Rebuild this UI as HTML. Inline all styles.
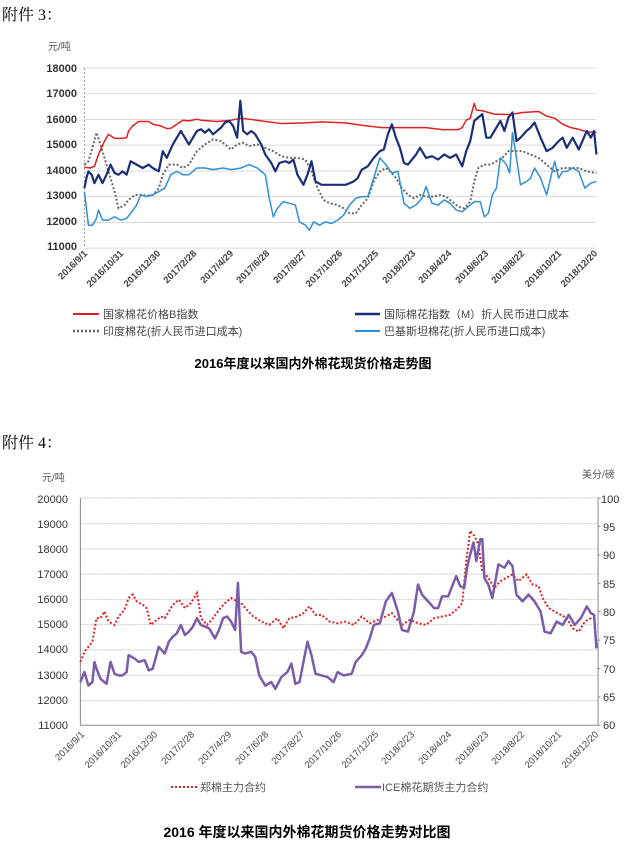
<!DOCTYPE html>
<html><head><meta charset="utf-8"><style>
body{margin:0;background:#fff;width:627px;height:844px;position:relative;overflow:hidden;font-family:"Liberation Sans","Noto Sans CJK SC",sans-serif}
svg{position:absolute;left:0}
.hd{position:absolute;left:2px;font-family:"Liberation Serif","Noto Serif CJK SC",serif;font-size:16px;color:#000}
</style></head><body>
<div class="hd" style="top:2px">附件 3：</div>
<div class="hd" style="top:430px">附件 4：</div>

<!-- chart 1 lines -->
<svg style="top:30px" width="627" height="350" viewBox="0 0 1560 1040" preserveAspectRatio="none">
<g stroke="#d9d9d9" stroke-width="1" vector-effect="non-scaling-stroke" fill="none">
<path vector-effect="non-scaling-stroke" d="M210 113H1484M210 189H1484M210 266H1484M210 342H1484M210 419H1484M210 495H1484M210 572H1484M210 648H1484"/>
</g>
<path d="M210 113V648" stroke="#999" stroke-dasharray="2,2" vector-effect="non-scaling-stroke" fill="none"/>
<g fill="none" stroke-linejoin="round" vector-effect="non-scaling-stroke">
<polyline vector-effect="non-scaling-stroke" stroke="#e02020" stroke-width="1.5" points="210,408 225,410 235,405 245,370 260,330 270,310 285,322 300,322 315,320 320,300 330,285 345,272 370,272 380,280 400,285 415,293 425,292 440,280 455,268 470,270 490,265 500,268 540,272 575,268 600,262 620,265 650,270 700,278 760,276 800,273 860,276 900,283 950,290 1000,290 1060,290 1100,296 1140,296 1150,290 1160,268 1170,262 1180,218 1185,238 1200,240 1230,250 1270,251 1300,245 1340,242 1360,256 1380,262 1400,280 1420,290 1440,295 1460,303 1484,304"/>
<polyline vector-effect="non-scaling-stroke" stroke="#666" stroke-width="2" stroke-dasharray="2,2" points="210,400 220,390 230,350 240,305 250,340 260,380 275,440 285,480 295,530 310,520 320,505 335,490 350,490 365,492 380,490 395,470 405,430 420,400 440,400 455,410 470,400 490,360 510,340 530,325 550,330 565,345 575,355 590,340 605,335 620,345 640,340 660,350 680,360 700,375 720,380 740,380 760,385 775,420 790,470 805,505 820,515 840,520 855,530 870,545 885,545 900,520 915,500 930,450 945,420 960,410 975,425 985,440 1000,470 1015,490 1030,500 1045,490 1060,495 1080,495 1095,490 1110,495 1125,510 1140,525 1155,530 1170,510 1180,450 1190,410 1205,400 1220,400 1235,390 1250,380 1265,360 1280,360 1300,360 1320,370 1340,380 1360,400 1380,420 1400,410 1420,410 1440,410 1460,420 1484,425"/>
<polyline vector-effect="non-scaling-stroke" stroke="#2f8fd8" stroke-width="1.5" points="210,480 215,530 220,580 230,580 240,560 245,535 255,565 270,565 285,555 300,565 315,560 325,545 340,520 350,490 365,495 380,490 395,480 410,470 425,430 440,420 455,430 470,430 490,410 510,410 530,415 555,410 575,415 600,410 620,400 640,410 660,430 670,500 680,555 690,530 705,510 720,515 735,520 745,570 760,580 770,595 780,570 795,580 810,570 825,575 840,565 855,550 870,520 885,500 900,495 915,495 930,440 945,380 960,400 975,425 990,420 1005,515 1020,530 1035,520 1050,500 1060,465 1075,515 1090,520 1105,505 1120,515 1135,535 1150,540 1165,525 1180,510 1195,510 1205,555 1215,545 1225,490 1235,470 1245,380 1260,400 1268,425 1275,305 1285,380 1295,460 1310,450 1320,440 1330,410 1345,440 1360,490 1370,440 1380,390 1390,440 1400,420 1410,420 1425,410 1440,420 1455,470 1470,455 1484,450"/>
<polyline vector-effect="non-scaling-stroke" stroke="#1a2f78" stroke-width="2.2" points="210,470 215,440 220,420 228,430 235,455 245,430 255,455 265,430 275,400 285,425 295,430 305,420 315,430 325,390 340,400 355,410 370,400 380,410 395,420 405,360 415,380 430,340 440,320 450,300 460,320 470,340 480,320 490,300 500,295 510,305 520,295 530,310 540,300 550,290 560,275 570,270 580,285 590,320 598,210 605,300 615,310 625,300 635,310 650,340 660,370 675,395 685,420 695,395 710,390 720,395 730,385 740,430 755,460 765,430 775,390 785,450 800,460 820,460 840,460 860,460 880,450 890,440 900,415 915,405 930,380 945,360 955,355 965,310 975,280 985,320 995,350 1005,395 1015,400 1025,385 1035,370 1045,350 1060,380 1075,375 1090,385 1105,370 1120,380 1135,370 1150,405 1160,360 1170,330 1180,270 1190,260 1200,250 1210,320 1220,320 1235,290 1245,270 1255,300 1265,260 1275,245 1285,330 1295,320 1310,300 1320,290 1330,275 1345,320 1360,360 1375,350 1390,330 1400,320 1410,350 1425,320 1440,355 1460,300 1470,320 1478,300 1484,370"/>
</g>
</svg>

<!-- chart 1 text -->
<svg style="top:0" width="627" height="400" font-family="Liberation Sans, Noto Sans CJK SC, sans-serif">
<text x="48" y="50" font-size="10" fill="#555">元/吨</text>
<g font-size="11" fill="#333" text-anchor="end" font-weight="bold">
<text x="77" y="72">18000</text><text x="77" y="97">17000</text><text x="77" y="123">16000</text><text x="77" y="148">15000</text><text x="77" y="174">14000</text><text x="77" y="199">13000</text><text x="77" y="225">12000</text><text x="77" y="250">11000</text>
</g>
<g font-size="9.5" fill="#444" text-anchor="end" font-weight="bold">
<text transform="translate(88,254) rotate(-45)">2016/9/1</text>
<text transform="translate(124,254) rotate(-45)">2016/10/31</text>
<text transform="translate(161,254) rotate(-45)">2016/12/30</text>
<text transform="translate(197,254) rotate(-45)">2017/2/28</text>
<text transform="translate(234,254) rotate(-45)">2017/4/29</text>
<text transform="translate(270,254) rotate(-45)">2017/6/28</text>
<text transform="translate(307,254) rotate(-45)">2017/8/27</text>
<text transform="translate(343,254) rotate(-45)">2017/10/26</text>
<text transform="translate(379,254) rotate(-45)">2017/12/25</text>
<text transform="translate(416,254) rotate(-45)">2018/2/23</text>
<text transform="translate(452,254) rotate(-45)">2018/4/24</text>
<text transform="translate(489,254) rotate(-45)">2018/6/23</text>
<text transform="translate(525,254) rotate(-45)">2018/8/22</text>
<text transform="translate(562,254) rotate(-45)">2018/10/21</text>
<text transform="translate(598,254) rotate(-45)">2018/12/20</text>
</g>
<line x1="73" y1="314" x2="99" y2="314" stroke="#e02020" stroke-width="2"/>
<line x1="355" y1="314" x2="380" y2="314" stroke="#1a2f78" stroke-width="2.5"/>
<line x1="73" y1="331" x2="99" y2="331" stroke="#666" stroke-width="2.5" stroke-dasharray="2,2"/>
<line x1="355" y1="331" x2="380" y2="331" stroke="#2f8fd8" stroke-width="2"/>
<g font-size="11" fill="#444">
<text x="103" y="318">国家棉花价格B指数</text>
<text x="384" y="318">国际棉花指数（M）折人民币进口成本</text>
<text x="103" y="335">印度棉花(折人民币进口成本)</text>
<text x="384" y="335">巴基斯坦棉花(折人民币进口成本)</text>
</g>
<text x="313" y="368" font-size="13" font-weight="bold" text-anchor="middle" fill="#000">2016年度以来国内外棉花现货价格走势图</text>
</svg>

<!-- chart 2 lines -->
<svg style="top:460px" width="627" height="380" viewBox="0 0 1560 1129" preserveAspectRatio="none">
<path vector-effect="non-scaling-stroke" fill="none" stroke="#ccc" stroke-dasharray="2,1" d="M200 113H1488M200 189H1488M200 264H1488M200 339H1488M200 414H1488M200 489H1488M200 564H1488M200 640H1488M200 715H1488"/>
<path vector-effect="non-scaling-stroke" fill="none" stroke="#888" d="M200 113V788H1488V113M1488 113h6M1488 197h6M1488 282h6M1488 366h6M1488 450h6M1488 535h6M1488 619h6M1488 704h6M1488 788h6"/>
<polyline vector-effect="non-scaling-stroke" fill="none" stroke="#e02020" stroke-width="2" stroke-dasharray="2,2" points="200,600 210,570 220,555 230,540 240,470 250,470 260,450 270,480 285,490 295,465 310,445 320,410 330,400 340,420 355,430 365,440 375,490 385,480 400,465 410,470 420,450 430,430 445,415 460,440 475,425 490,395 500,470 515,490 530,470 545,445 560,425 575,410 590,420 600,425 610,440 630,465 650,480 670,490 690,470 705,500 720,470 740,465 755,455 770,435 785,460 800,460 820,480 840,485 860,480 880,490 900,465 920,485 940,475 960,465 975,455 985,470 1000,490 1020,475 1040,485 1060,490 1080,470 1100,465 1120,460 1140,440 1150,425 1160,300 1170,210 1180,225 1190,250 1200,330 1215,350 1230,380 1245,360 1260,350 1275,340 1290,360 1310,340 1325,370 1340,375 1350,410 1365,440 1380,450 1395,460 1410,470 1425,500 1440,510 1455,480 1470,470 1484,475"/>
<polyline vector-effect="non-scaling-stroke" fill="none" stroke="#7a5ca8" stroke-width="2.5" stroke-linejoin="round" points="200,660 210,630 220,670 230,660 235,600 240,620 250,650 265,665 275,600 285,635 295,640 305,640 315,630 320,580 335,590 345,600 360,595 370,625 380,620 395,555 410,575 420,540 430,525 440,515 450,490 460,520 470,510 480,495 490,470 500,490 510,495 520,500 535,530 545,505 555,470 565,465 575,480 585,505 592,365 600,570 610,575 625,570 635,585 645,640 660,670 675,660 685,680 700,645 715,630 725,605 735,665 745,660 755,600 765,540 775,580 785,635 800,640 815,645 830,660 840,630 855,640 875,635 885,600 900,580 910,560 920,530 930,490 945,485 960,420 975,395 990,450 1000,505 1015,510 1030,450 1040,370 1050,400 1065,420 1080,440 1090,440 1100,405 1115,405 1125,375 1135,345 1145,375 1155,380 1162,320 1170,280 1178,245 1185,300 1195,235 1200,235 1205,350 1215,370 1225,410 1240,310 1255,320 1265,300 1275,315 1285,400 1300,420 1315,400 1330,420 1345,450 1355,510 1370,515 1385,480 1400,490 1415,460 1430,490 1445,470 1460,435 1470,455 1478,460 1484,560"/>
</svg>

<!-- chart 2 text -->
<svg style="top:440px" width="627" height="404" font-family="Liberation Sans, Noto Sans CJK SC, sans-serif">
<text x="42" y="41" font-size="10" fill="#555">元/吨</text>
<text x="582" y="38" font-size="10" fill="#555">美分/磅</text>
<g font-size="11" fill="#333" text-anchor="end">
<text x="68" y="63">20000</text><text x="68" y="88">19000</text><text x="68" y="113">18000</text><text x="68" y="138">17000</text><text x="68" y="163">16000</text><text x="68" y="188">15000</text><text x="68" y="213">14000</text><text x="68" y="239">13000</text><text x="68" y="264">12000</text><text x="68" y="289">11000</text>
</g>
<g font-size="11" fill="#333">
<text x="601" y="63">100</text><text x="603" y="91">95</text><text x="603" y="119">90</text><text x="603" y="148">85</text><text x="603" y="176">80</text><text x="603" y="204">75</text><text x="603" y="233">70</text><text x="603" y="261">65</text><text x="603" y="289">60</text>
</g>
<g font-size="9.5" fill="#444" text-anchor="end">
<text transform="translate(85,295) rotate(-45)">2016/9/1</text>
<text transform="translate(122,295) rotate(-45)">2016/10/31</text>
<text transform="translate(158,295) rotate(-45)">2016/12/30</text>
<text transform="translate(195,295) rotate(-45)">2017/2/28</text>
<text transform="translate(232,295) rotate(-45)">2017/4/29</text>
<text transform="translate(269,295) rotate(-45)">2017/6/28</text>
<text transform="translate(305,295) rotate(-45)">2017/8/27</text>
<text transform="translate(342,295) rotate(-45)">2017/10/26</text>
<text transform="translate(379,295) rotate(-45)">2017/12/25</text>
<text transform="translate(415,295) rotate(-45)">2018/2/23</text>
<text transform="translate(452,295) rotate(-45)">2018/4/24</text>
<text transform="translate(489,295) rotate(-45)">2018/6/23</text>
<text transform="translate(525,295) rotate(-45)">2018/8/22</text>
<text transform="translate(562,295) rotate(-45)">2018/10/21</text>
<text transform="translate(599,295) rotate(-45)">2018/12/20</text>
</g>
<line x1="171" y1="347" x2="199" y2="347" stroke="#e02020" stroke-width="2" stroke-dasharray="2,2"/>
<line x1="355" y1="347" x2="381" y2="347" stroke="#7a5ca8" stroke-width="2.5"/>
<g font-size="11" fill="#555">
<text x="200" y="351">郑棉主力合约</text>
<text x="382" y="351">ICE棉花期货主力合约</text>
</g>
<text x="307" y="397" font-size="14" font-weight="bold" text-anchor="middle" fill="#000">2016 年度以来国内外棉花期货价格走势对比图</text>
</svg>
</body></html>
